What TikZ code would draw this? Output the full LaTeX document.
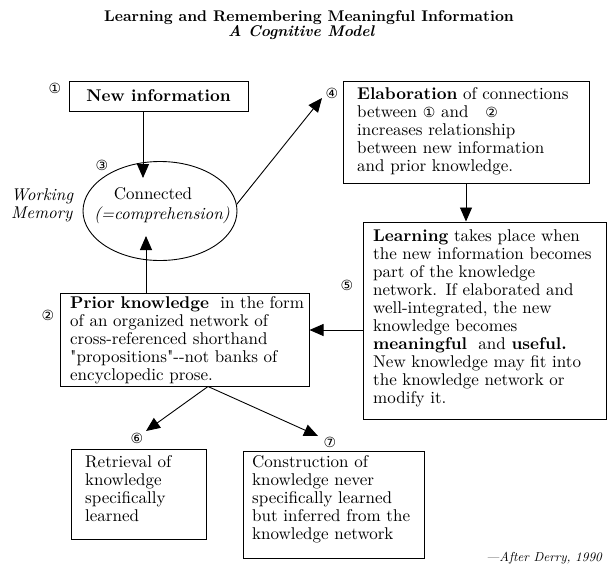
\documentclass[tikz,border=0pt]{standalone}
\usepackage{fontspec}
\setmainfont{lmroman10-regular.otf}[BoldFont=lmroman10-bold.otf, ItalicFont=lmroman10-italic.otf, BoldItalicFont=lmroman10-bolditalic.otf]
\newfontfamily\plainlm{lmroman10-regular.otf}[Ligatures=TeXOff]
\newfontfamily\dejavu{DejaVu Sans}
\usetikzlibrary{arrows.meta,shapes.geometric}
\newcommand\cnum[1]{{\dejavu\fontsize{14}{14}\selectfont #1}}
\newcommand\sq{{\plainlm"}}
\tikzset{
  box/.style={draw, line width=1pt, inner sep=0pt, rectangle},
  sz/.style 2 args={minimum width=#1pt, minimum height=#2pt},
  txt/.style={anchor=base west, inner sep=0pt, align=left,
    font=\fontsize{17}{18}\selectfont},
  num/.style={inner sep=0pt, font=\dejavu\fontsize{14}{14}\selectfont},
  arr/.style={line width=0.9pt, -{Triangle[length=14pt,width=12pt]}},
}
\begin{document}
\begin{tikzpicture}[x=1pt,y=-1pt]
\fill[white] (0,0) rectangle (609,570);
\useasboundingbox (0,0) rectangle (609,570);

% titles
\node[anchor=base, inner sep=0pt, font=\bfseries\fontsize{15.5}{18}\selectfont] (title) at (309,21)
  {Learning and Remembering Meaningful Information};
\node[anchor=base west, inner sep=0pt, font=\bfseries\itshape\fontsize{15.5}{18}\selectfont] (sub) at (228,36)
  {A Cognitive Model};

% boxes
\node[box, sz={179}{30}, font=\bfseries\fontsize{17}{18}\selectfont] (b1) at (158.5,96) {New information};
\node[box, sz={246}{102}] (b4) at (466,132) {};
\node[box, sz={243}{197}] (b5) at (484.5,320.5) {};
\node[box, sz={249}{93}] (b2) at (184.5,339.5) {};
\node[box, sz={135}{90}] (b6) at (138.5,494) {};
\node[box, sz={181}{107}] (b7) at (333.5,504.5) {};
\node[draw, ellipse, line width=0.9pt, inner sep=0pt, sz={154}{99}] (wm) at (160,211) {};

% texts
\node[txt, text width=228pt] (t4) at (357,99)
  {\textbf{Elaboration} of connections\\
   between \cnum{①} and\ \ \ \cnum{②}\\
   increases relationship\\
   between new information\\
   and prior knowledge.};
\node[txt, text width=232pt] (t5) at (373,241)
  {\textbf{Learning} takes place when\\
   the new information becomes\\
   part of the knowledge\\
   network. If elaborated and\\
   well-integrated, the new\\
   knowledge becomes\\
   \textbf{meaningful}\ \ and \textbf{useful.}\\
   New knowledge may fit into\\
   the knowledge network or\\
   modify it.};
\node[txt, text width=238pt] (t2) at (70,308)
  {\textbf{Prior knowledge}\ \ in the form\\
   of an organized network of\\
   cross-referenced shorthand\\
   \sq propositions\sq-{}-not banks of\\
   encyclopedic prose.};
\node[txt, text width=125pt] (t6) at (85,467)
  {Retrieval of\\ knowledge\\ specifically\\ learned};
\node[txt, text width=170pt] (t7) at (252,467)
  {Construction of\\ knowledge never\\ specifically learned\\ but inferred from the\\ knowledge network};

\node[anchor=base, inner sep=0pt, font=\fontsize{17}{18}\selectfont] (c1) at (153,199) {Connected};
\node[anchor=base, inner sep=0pt, font=\itshape\fontsize{17}{18}\selectfont] (c2) at (162,219) {(=comprehension)};
\node[txt, font=\itshape\fontsize{17}{18}\selectfont, text width=80pt] (wmtxt) at (11,200) {Working\\ Memory};
\node[anchor=base east, inner sep=0pt, font=\itshape\fontsize{13}{15}\selectfont] (cite) at (602,561) {---After Derry, 1990};

% numbers
\node[num] (n1) at (55,88) {①};
\node[num] (n3) at (102,165) {③};
\node[num] (n4) at (332,93) {④};
\node[num] (n5) at (347,285) {⑤};
\node[num] (n2) at (48,315) {②};
\node[num] (n6) at (137,438) {⑥};
\node[num] (n7) at (330,442) {⑦};

% arrow ends
\coordinate (p1) at (143,178);
\coordinate (p2) at (146,236);
\coordinate (p3) at (322,98);
\coordinate (p5) at (300,330);
\coordinate (fork) at (208,387);
\coordinate (p6) at (146,431);
\coordinate (p7) at (318,436);

\draw[arr] (b1.south -| p1) -- (p1);
\draw[arr] (b2.north -| p2) -- (p2);
\draw[arr] (wm.5) -- (p3);
\draw[arr] (b4.south) -- (b4.south |- b5.north);
\draw[arr] (b5.west |- p5) -- (b2.east |- p5);
\draw[arr] (b2.south -| fork) -- (p6);
\draw[arr] (b2.south -| fork) -- (p7);
\end{tikzpicture}
\end{document}
